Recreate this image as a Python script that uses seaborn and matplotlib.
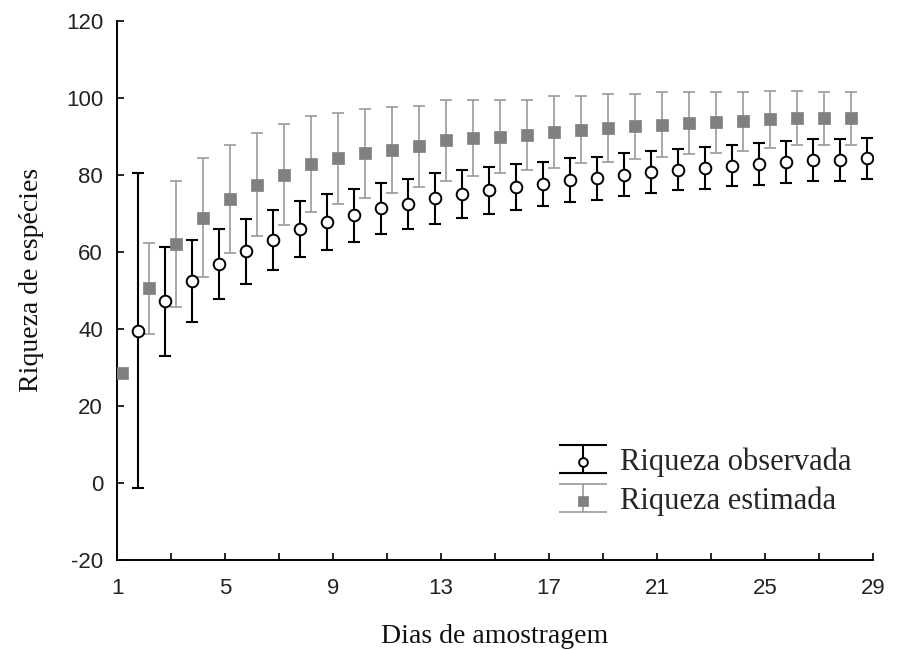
import matplotlib
matplotlib.use("Agg")
import matplotlib.pyplot as plt
import pandas as pd
import seaborn as sns
from matplotlib.container import ErrorbarContainer
from matplotlib.legend_handler import HandlerErrorbar, HandlerTuple
from matplotlib.lines import Line2D

# sampling day index of each point (28 points per series)
dias = [1, 2, 3, 4, 5, 6, 7, 8, 9, 10, 11, 12, 13, 14,
        15, 16, 17, 18, 19, 20, 21, 22, 23, 24, 25, 26, 27, 28]

# observed richness (mean and half-width of the bar)
obs_media = [39.5, 47.2, 52.4, 56.9, 60.2, 63.1, 66.0, 67.8, 69.5, 71.3,
             72.5, 73.9, 75.1, 76.0, 76.9, 77.6, 78.6, 79.2, 80.1, 80.8,
             81.4, 81.8, 82.4, 82.8, 83.3, 83.9, 83.9, 84.3]
obs_erro = [40.9, 14.2, 10.6, 9.1, 8.5, 7.8, 7.3, 7.2, 6.9, 6.6,
            6.4, 6.5, 6.2, 6.0, 6.0, 5.7, 5.7, 5.6, 5.5, 5.4,
            5.4, 5.4, 5.3, 5.4, 5.5, 5.4, 5.4, 5.4]

# estimated richness
est_media = [28.6, 50.6, 62.1, 68.9, 73.8, 77.5, 80.1, 82.8, 84.3, 85.6,
             86.5, 87.5, 89.0, 89.6, 90.0, 90.5, 91.2, 91.8, 92.2, 92.6,
             93.1, 93.5, 93.7, 93.9, 94.5, 94.8, 94.7, 94.7]
est_erro = [0.0, 11.8, 16.4, 15.5, 14.0, 13.4, 13.1, 12.4, 11.8, 11.5,
            11.1, 10.5, 10.5, 9.9, 9.6, 9.1, 9.3, 8.8, 8.8, 8.4,
            8.4, 8.1, 7.9, 7.7, 7.4, 7.1, 6.9, 6.9]

x_ticks = [1, 5, 9, 13, 17, 21, 25, 29]
y_ticks = [-20, 0, 20, 40, 60, 80, 100, 120]

# horizontal shift of each series inside its day slot
DESLOC_EST = 0.2
DESLOC_OBS = 0.76

df = pd.concat([
    pd.DataFrame({"pos": [d + DESLOC_OBS for d in dias], "riqueza": obs_media,
                  "erro": obs_erro, "serie": "Riqueza observada"}),
    pd.DataFrame({"pos": [d + DESLOC_EST for d in dias], "riqueza": est_media,
                  "erro": est_erro, "serie": "Riqueza estimada"}),
], ignore_index=True)

sns.set_theme(style="ticks")
plt.rcParams["font.family"] = ["Liberation Sans", "DejaVu Sans"]
plt.rcParams["axes.unicode_minus"] = False

fig = plt.figure(figsize=(9.05, 6.5), dpi=100)
ax = fig.add_axes([117 / 905, 1 - 560 / 650, (873 - 117) / 905, (560 - 21) / 650])

GRAY_BAR = "#9a9a9a"
GRAY_MK = "#808080"

est = df[df["serie"] == "Riqueza estimada"]
obs = df[df["serie"] == "Riqueza observada"]

eb_est = ax.errorbar(est["pos"], est["riqueza"], yerr=est["erro"], fmt="none",
                     ecolor=GRAY_BAR, elinewidth=1.2, capsize=4, capthick=1.2, zorder=2)
eb_obs = ax.errorbar(obs["pos"], obs["riqueza"], yerr=obs["erro"], fmt="none",
                     ecolor="black", elinewidth=1.5, capsize=4, capthick=1.5, zorder=3)

sns.scatterplot(data=est, x="pos", y="riqueza", marker="s", s=80, color=GRAY_MK,
                edgecolor=GRAY_MK, linewidth=0.5, ax=ax, zorder=4, legend=False)
sns.scatterplot(data=obs, x="pos", y="riqueza", marker="o", s=70, color="white",
                edgecolor="black", linewidth=1.4, ax=ax, zorder=5, legend=False)

ax.set_xlim(1, 29)
ax.set_ylim(-20, 120)
ax.set_xticks(x_ticks)
ax.set_xticks([3, 7, 11, 15, 19, 23, 27], minor=True)
ax.set_yticks(y_ticks)
ax.tick_params(axis="both", which="both", direction="in", length=5, width=1.2,
               color="black", labelsize=16, labelcolor="#222222")
ax.tick_params(axis="x", pad=13)
ax.tick_params(axis="y", pad=10)
sns.despine(ax=ax)
for side in ("left", "bottom"):
    ax.spines[side].set_linewidth(1.4)
    ax.spines[side].set_color("black")
ax.grid(False)

serif = ["Liberation Serif", "DejaVu Serif"]
ax.set_xlabel("Dias de amostragem", family=serif, fontsize=20, color="#111111", labelpad=18)
ax.set_ylabel("Riqueza de espécies", family=serif, fontsize=20, color="#111111",
              labelpad=16, y=0.52)


class CapLargo(HandlerErrorbar):
    def create_artists(self, *args, **kwargs):
        artists = super().create_artists(*args, **kwargs)
        for a in artists:
            if isinstance(a, Line2D) and a.get_marker() == "_":
                a.set_markersize(34)
        return artists


pc_obs, pc_est = ax.collections[-1], ax.collections[-2]
leg = ax.legend([(eb_obs, pc_obs), (eb_est, pc_est)],
                ["Riqueza observada", "Riqueza estimada"],
                handler_map={ErrorbarContainer: CapLargo(yerr_size=0.45),
                             tuple: HandlerTuple(ndivide=1)},
                loc="center left", bbox_to_anchor=(546 / 905, 1 - 481.5 / 650),
                bbox_transform=fig.transFigure, frameon=False, borderaxespad=0,
                prop={"family": serif, "size": 22}, markerscale=0.75,
                handlelength=1.6, handletextpad=0.41, labelspacing=0.32)

fig.savefig("out.png", dpi=100)
